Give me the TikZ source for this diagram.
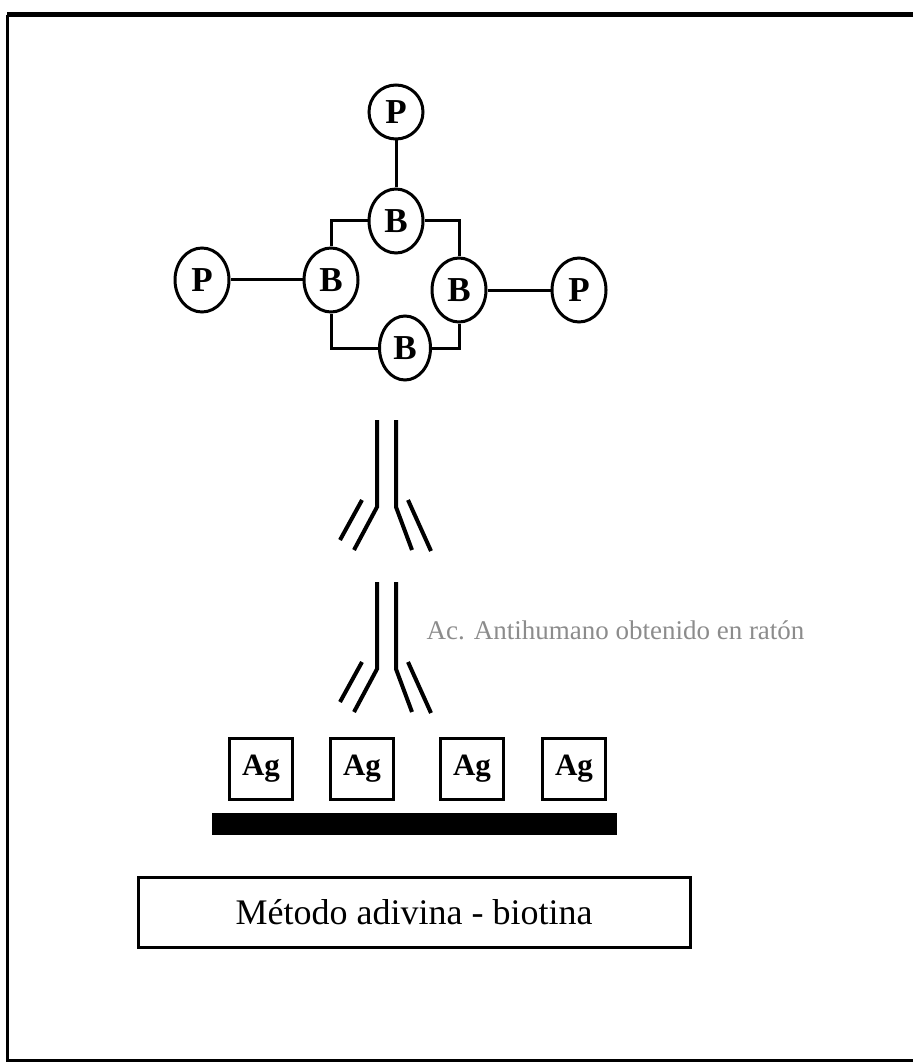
\documentclass[tikz,border=0pt]{standalone}
\usepackage{fontspec}
\setmainfont{Liberation Serif}
\usetikzlibrary{shapes.geometric}

\tikzset{
  ball/.style={ellipse, draw, line width=3pt, minimum width=54pt,
    minimum height=64pt, inner sep=0pt,
    font=\fontsize{35}{35}\selectfont\bfseries},
  agbox/.style={draw, line width=3pt, minimum width=63pt,
    minimum height=61pt, inner sep=0pt,
    font=\fontsize{31}{31}\selectfont\bfseries},
  chain/.style={line width=4pt},
  link/.style={line width=3pt}
}

\begin{document}
\begin{tikzpicture}[x=1pt, y=-1pt]
  \useasboundingbox (0,0) rectangle (913,1064);

  % open frame, right side runs off the page
  \draw[line width=5pt] (913,15) -- (7,15);
  \draw[line width=3pt] (7,15) -- (7,1060) -- (913,1060);

  % biotin ring with peroxidase
  \node[ball, minimum height=54pt] (Pt) at (396,112) {P};
  \node[ball] (Bt) at (396,221) {B};
  \node[ball] (Bl) at (331,280) {B};
  \node[ball] (Br) at (459,290) {B};
  \node[ball, minimum width=51pt] (Bb) at (405,348) {B};
  \node[ball] (Pl) at (202,280) {P};
  \node[ball] (Pr) at (579,290) {P};

  \draw[link] (Pt) -- (Bt);
  \draw[link] (Pl) -- (Bl);
  \draw[link] (Br) -- (Pr);
  \draw[link] (Bt) -| (Bl);
  \draw[link] (Bt) -| (Br);
  \draw[link] (Bb) -| (Bl);
  \draw[link] (Bb) -| (Br);

  % the two antibodies
  \foreach \y in {420,582} {
    \draw[chain] (377,\y) -- (377,\y+87) -- (354,\y+130);
    \draw[chain] (396,\y) -- (396,\y+87) -- (412,\y+130);
    \draw[chain] (362,\y+80) -- (340,\y+120);
    \draw[chain] (408,\y+80) -- (431,\y+131);
  }
  \node[anchor=west, text=black!45, font=\fontsize{27}{27}\selectfont]
    (aclabel) at (423,630) {Ac. Antihumano obtenido en ratón};

  % antigens on the solid phase
  \foreach \x [count=\i] in {261,362,472,574}
    \node[agbox] (ag\i) at (\x,769) {Ag};
  \fill (212,813) rectangle (617,835);

  \node[draw, line width=3pt, minimum width=552pt, minimum height=70pt,
    font=\fontsize{36}{36}\selectfont] (metodo) at (414,912.5)
    {Método adivina - biotina};
\end{tikzpicture}
\end{document}
